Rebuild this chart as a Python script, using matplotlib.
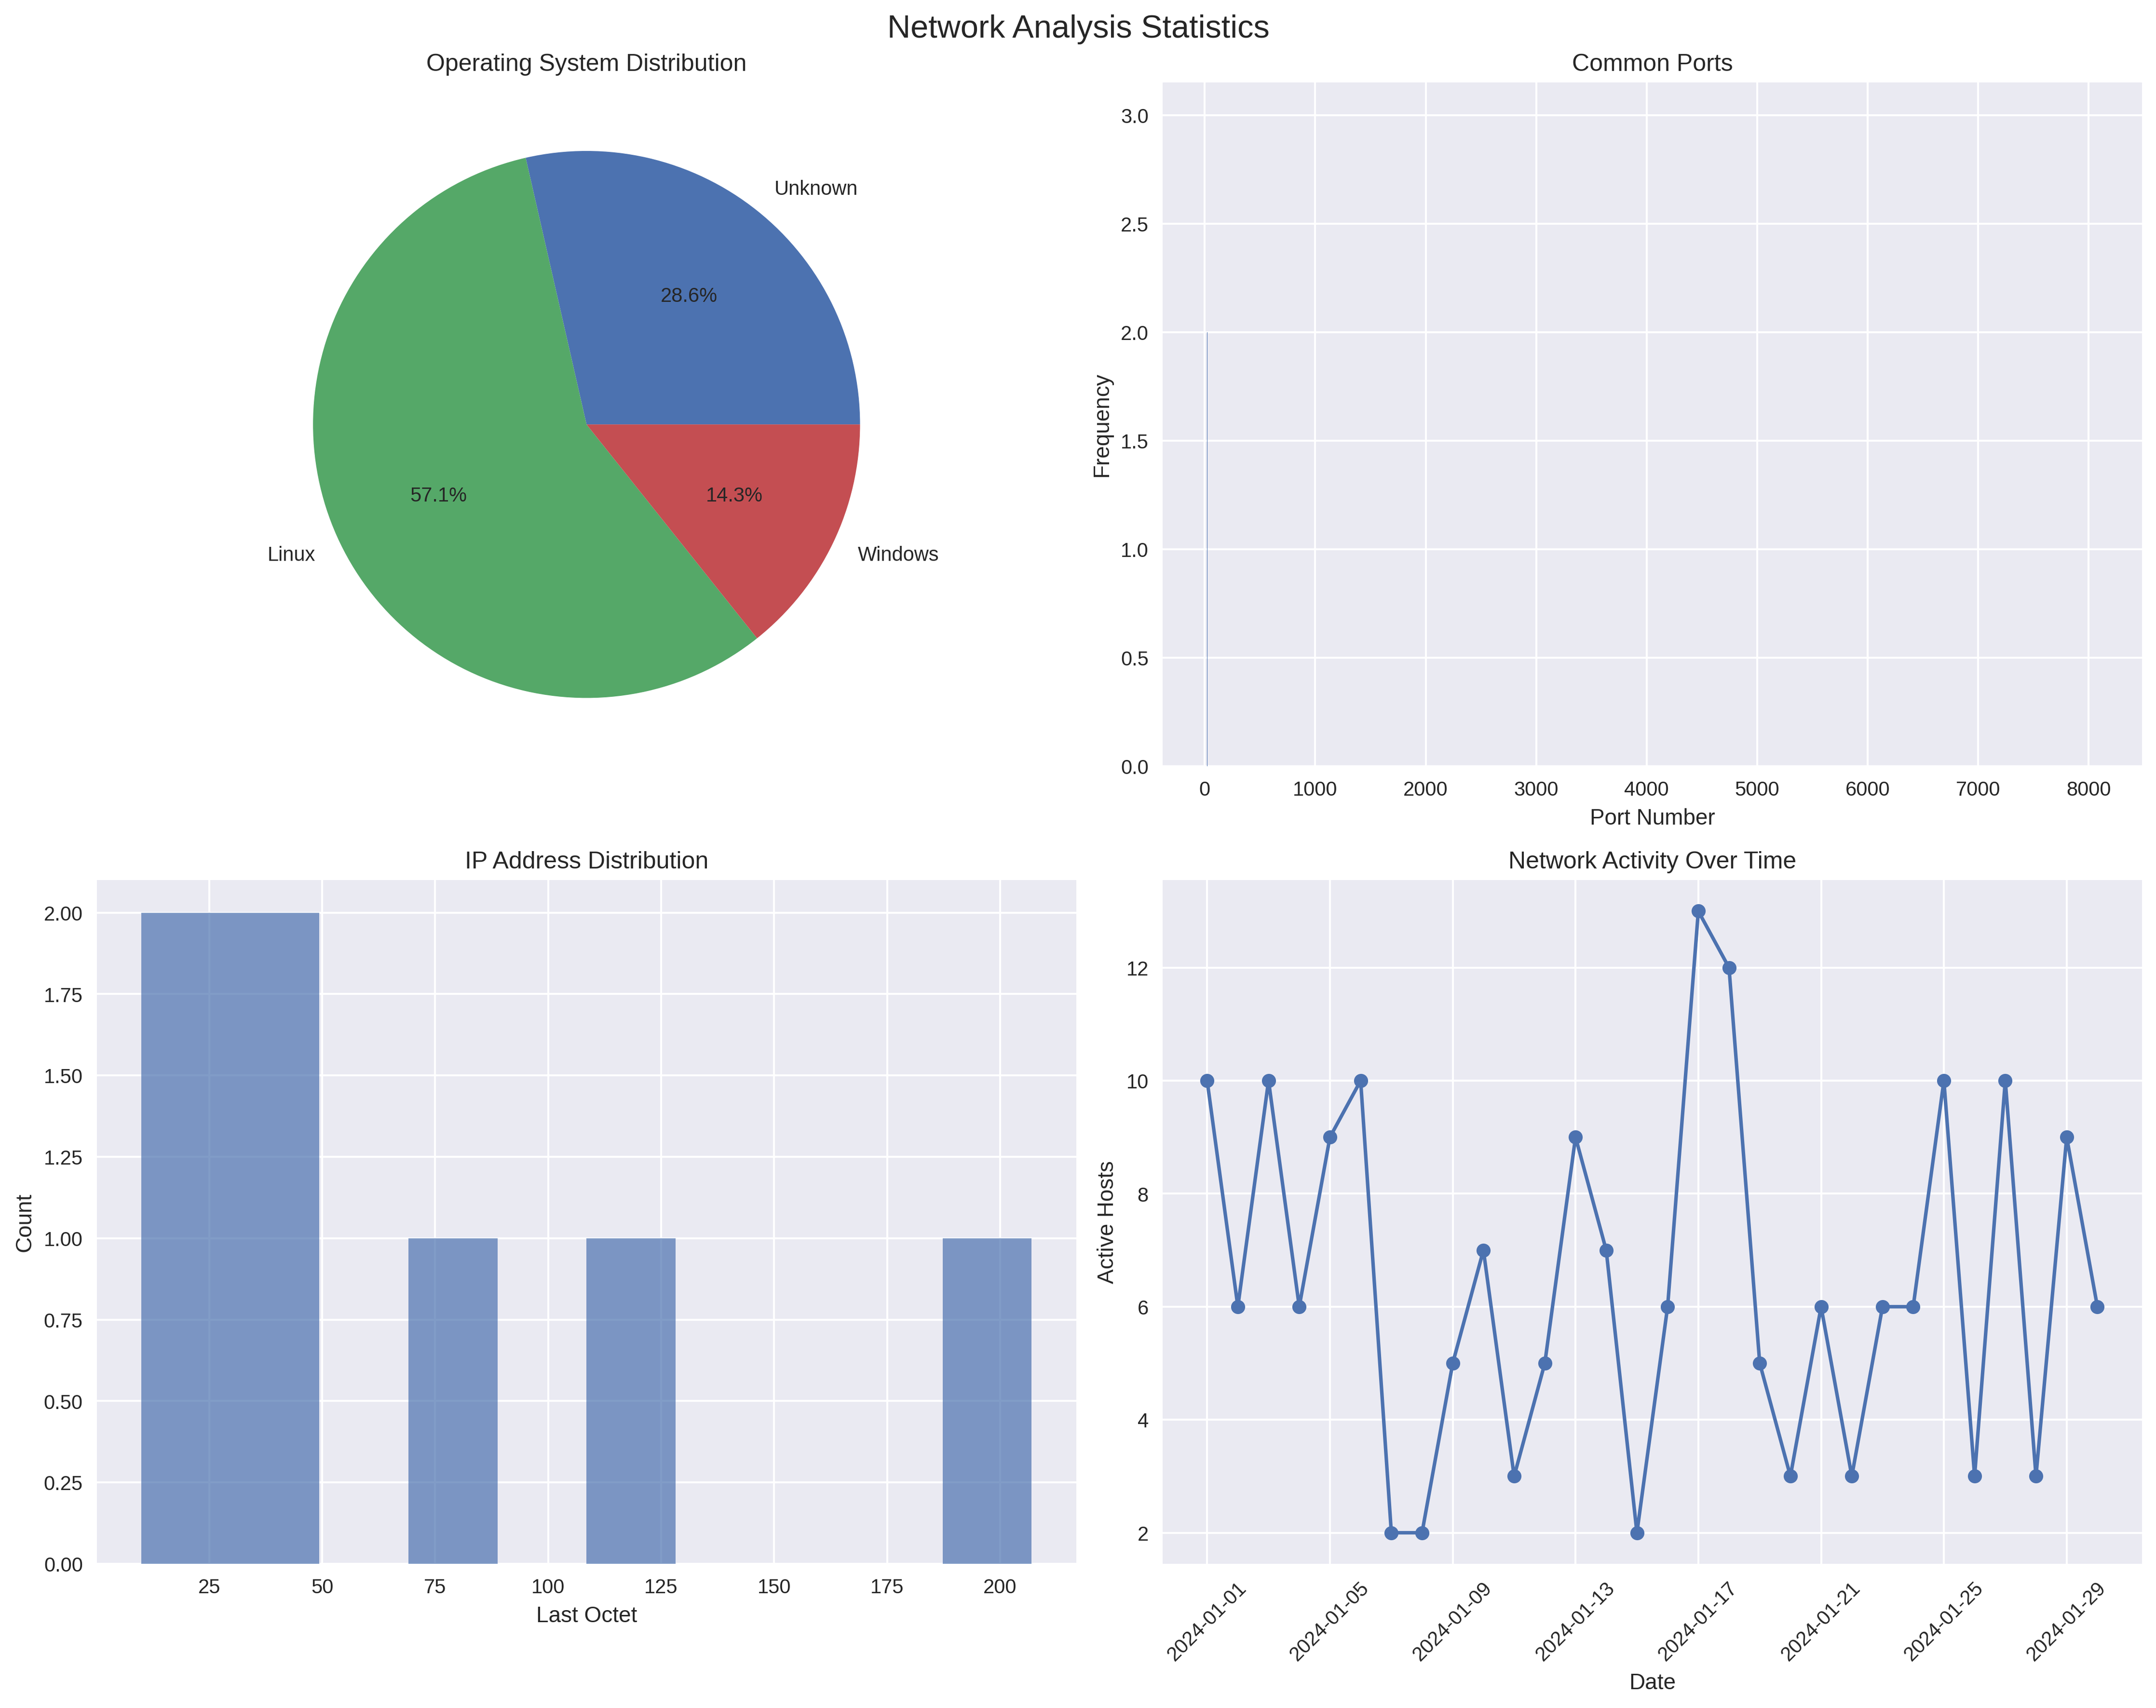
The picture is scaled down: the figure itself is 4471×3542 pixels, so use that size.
import matplotlib
matplotlib.use("Agg")
import matplotlib.pyplot as plt
import matplotlib.dates as mdates
import numpy as np
import pandas as pd

plt.style.use('seaborn-v0_8')

os_labels = ['Unknown', 'Linux', 'Windows']
os_counts = [2, 4, 1]

ports = [22, 80, 443, 3306, 8080]
port_freq = [2, 3, 2, 1, 1]

ip_last_octets = [10, 18, 33, 45, 78, 115, 207]

dates = pd.date_range('2024-01-01', '2024-01-30', freq='D')
active_hosts = [10, 6, 10, 6, 9, 10, 2, 2, 5, 7, 3, 5, 9, 7, 2, 6, 13, 12, 5, 3,
                6, 3, 6, 6, 10, 3, 10, 3, 9, 6]

fig, axes = plt.subplots(2, 2, figsize=(15, 12))
fig.suptitle('Network Analysis Statistics', fontsize=16)

ax = axes[0, 0]
ax.pie(os_counts, labels=os_labels, autopct='%1.1f%%')
ax.set_title('Operating System Distribution')

ax = axes[0, 1]
ax.bar(ports, port_freq)
ax.set_title('Common Ports')
ax.set_xlabel('Port Number')
ax.set_ylabel('Frequency')

ax = axes[1, 0]
ax.hist(ip_last_octets, bins=10, alpha=0.7)
ax.set_title('IP Address Distribution')
ax.set_xlabel('Last Octet')
ax.set_ylabel('Count')

ax = axes[1, 1]
ax.plot(dates, active_hosts, marker='o')
ax.set_title('Network Activity Over Time')
ax.set_xlabel('Date')
ax.set_ylabel('Active Hosts')
ax.tick_params(axis='x', rotation=45)

plt.tight_layout()
fig.savefig('out.png', dpi=300, bbox_inches='tight')
